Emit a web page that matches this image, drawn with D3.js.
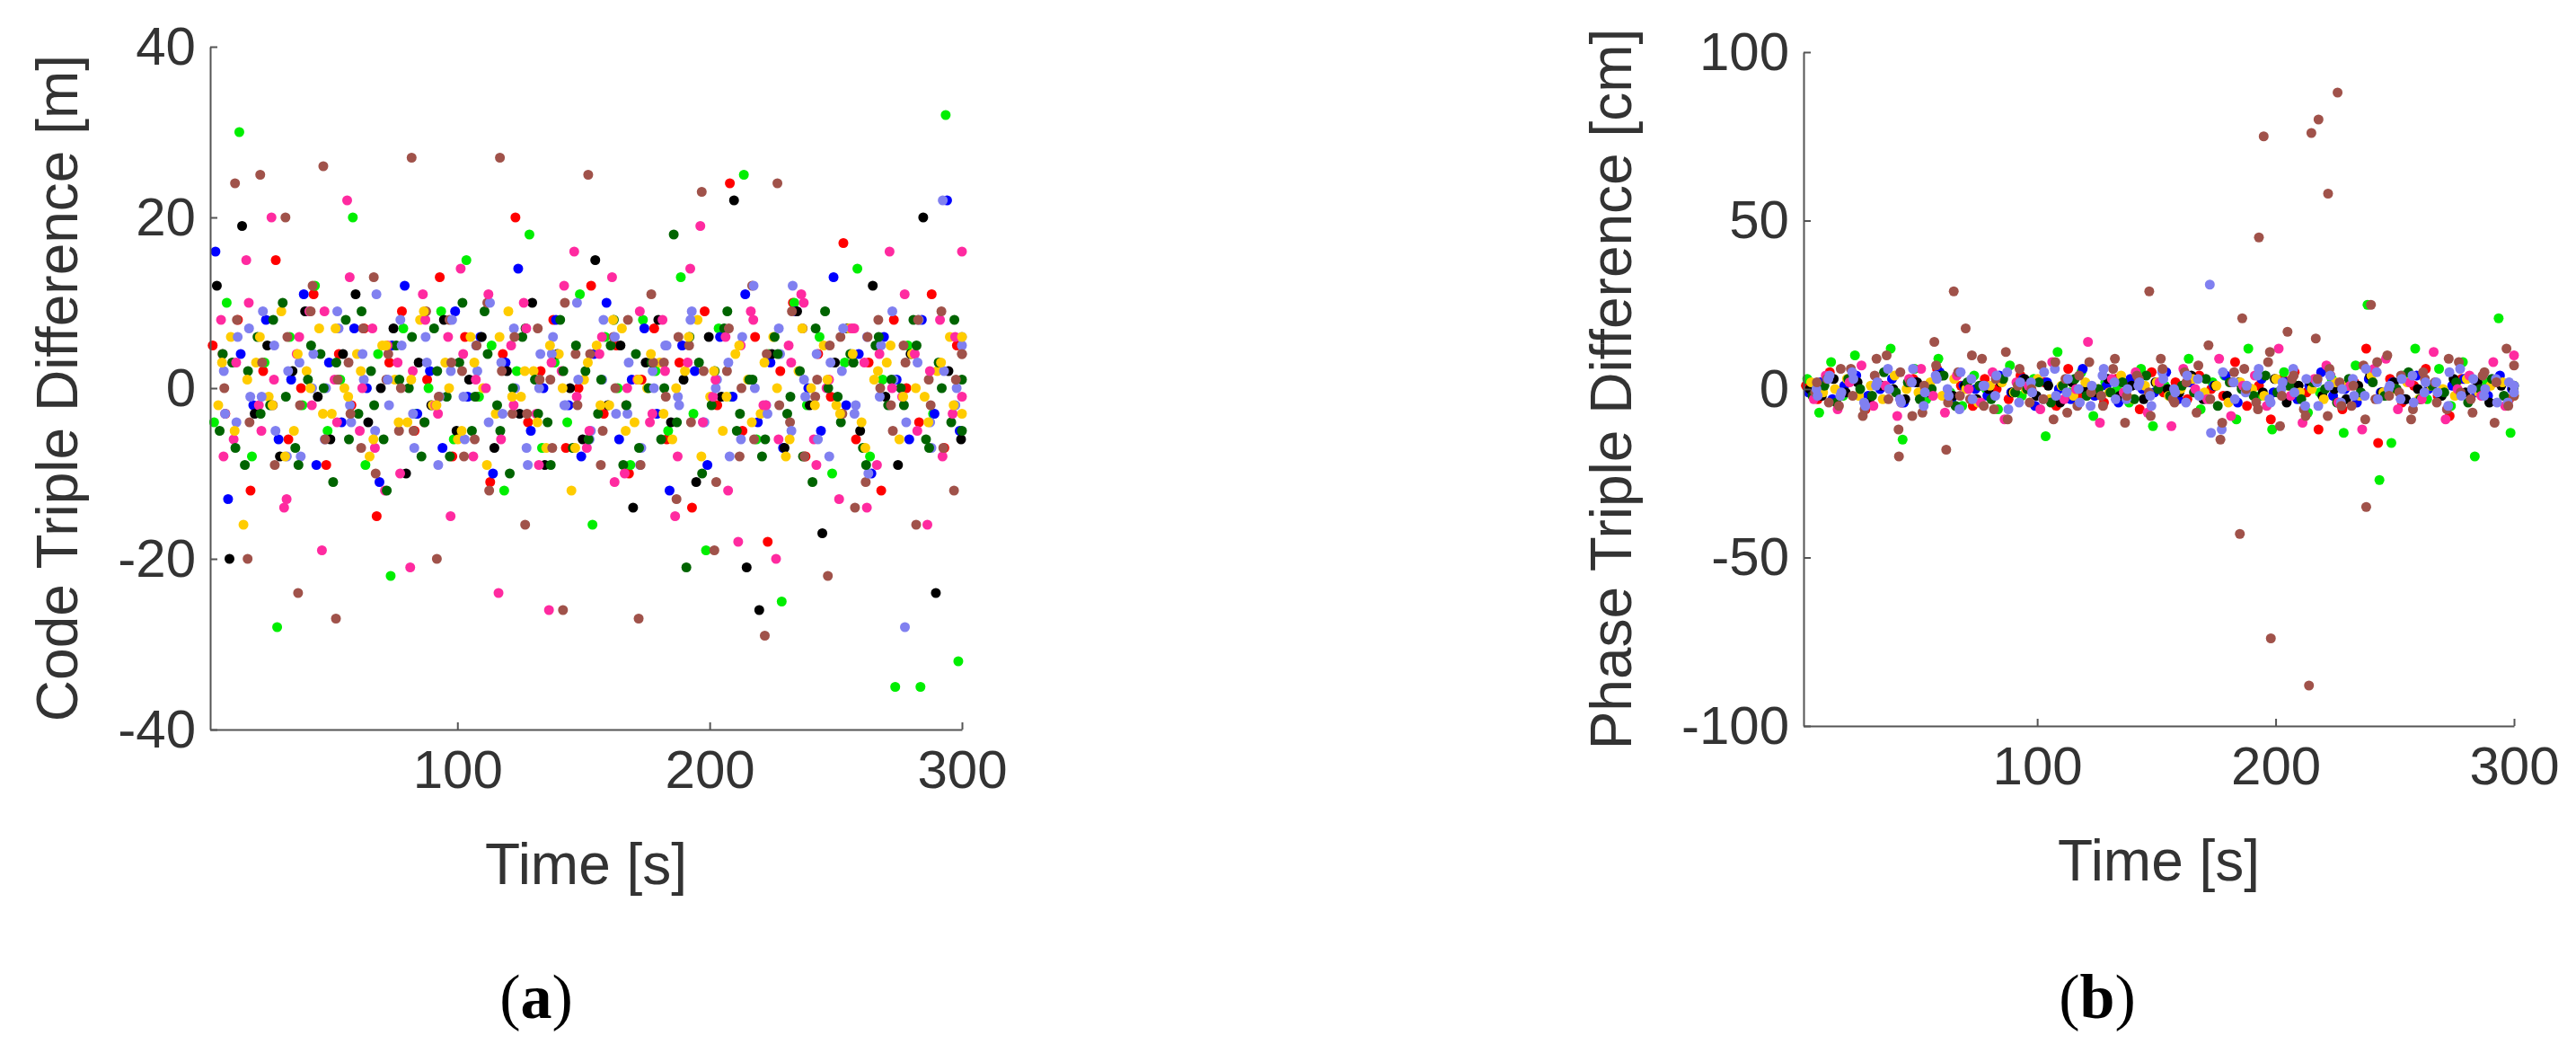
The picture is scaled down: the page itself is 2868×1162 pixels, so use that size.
<!DOCTYPE html>
<html><head><meta charset="utf-8">
<script src="https://cdn.jsdelivr.net/npm/d3@7"></script>
<style>body{margin:0;background:#fff}</style>
</head><body><svg id="c" width="2868" height="1162"></svg>
<script>
// sample times (s), one sample per 5 s per series
const times = d3.range(3, 300, 5);
const times2 = d3.range(5.5, 301, 5);
const colors = ["#ff0000","#00ee00","#0000ff","#000000","#ffcc00","#006400","#ff2aa0","#a0524a","#8080f0"];

// (a) Code triple difference [m]
const codeRed   = [5,-3,8,-12,2,15,-6,0,11,-9,4,-2,7,-15,3,9,-5,1,13,-8,6,-1,-11,4,20,-4,2,8,-7,0,12,-3,5,-10,1,7,-6,3,-14,9,-2,24,-5,6,-18,2,10,-8,4,-1,17,-6,3,-12,8,0,-4,11,-7,5];
const codeGreen = [-4,10,30,-8,3,-28,6,-2,12,-5,1,20,-9,4,-22,7,-3,0,9,-6,15,-1,5,-12,2,18,-7,3,-4,11,-16,6,0,-9,8,2,-5,13,-3,-19,7,-1,25,-6,4,-25,10,-2,6,-10,3,14,-8,1,-35,5,-35,-3,32,-32];
const codeBlue  = [16,-13,4,-2,8,-6,1,11,-9,3,-4,7,0,-11,5,12,-3,2,-7,9,-1,6,-10,3,14,-5,0,8,-2,-8,4,10,-6,1,7,-3,-12,5,2,-9,6,-1,11,-4,3,-7,9,0,-5,13,-2,4,-10,6,1,-6,8,-3,22,-5];
const codeBlack = [12,-20,19,-3,5,-8,2,9,-1,-6,4,11,-4,0,7,-10,3,-2,8,-5,1,6,-7,2,-3,10,-9,4,0,-6,15,-2,5,-14,3,8,-4,1,-11,6,-1,22,-21,-26,4,-7,9,-2,-17,3,7,-5,12,-1,-9,4,20,-24,2,-6];
const codeYellow= [-2,6,-16,3,-1,9,-5,2,7,-3,0,4,-8,5,1,-4,8,-2,3,-6,6,0,-3,9,-1,2,-7,4,-12,1,5,-2,7,-4,0,3,-6,2,8,-1,-5,4,1,-3,6,-8,2,0,5,-2,7,-4,1,3,-6,4,-1,2,6,-3];
const codeDkGrn = [-5,3,-9,6,-2,10,-7,1,4,-11,8,-3,2,-6,5,0,-8,7,-1,3,-5,9,-2,-10,6,1,-4,8,-7,2,-3,5,-9,4,0,-6,18,-21,3,-2,7,-5,1,-8,6,-3,2,-11,9,-1,4,-7,5,-2,0,8,-6,3,-4,1];
const codePink  = [8,-6,15,-2,20,-14,4,9,-19,1,22,-5,7,-12,3,-21,11,-2,6,14,-8,0,-24,5,10,-3,-26,2,16,-7,4,13,-10,1,-4,8,-15,3,19,-1,6,-18,9,-2,-20,5,11,-6,0,-13,7,3,-9,16,-1,4,-16,8,-3,16];
const codeBrown = [4,24,-20,25,-2,20,-24,9,26,-27,3,-7,13,1,-5,27,-4,-20,8,2,-6,10,27,-3,-16,7,1,-26,4,25,-9,6,-2,-27,11,3,-13,5,23,-19,2,-8,12,-29,24,-4,7,-1,-22,6,3,-11,8,-2,5,-16,1,9,-12,4];
const codeLav   = [2,-4,7,-1,5,-8,3,0,-6,9,-2,4,-5,1,8,-3,6,-9,2,-1,5,-4,3,7,-7,0,4,-2,10,-6,1,6,-3,-9,2,5,-1,8,-4,0,3,-6,12,-2,7,-5,1,4,-8,2,-3,6,-1,9,-28,3,-4,22,-2,5];
const codeSeries = [codeRed,codeGreen,codeBlue,codeBlack,codeYellow,codeDkGrn,codePink,codeBrown,codeLav];
// second sample set (offset times) for the denser colours
const codeLav2   = [-3,6,-1,9,-5,2,-8,4,0,7,-4,1,11,-2,5,-7,3,-1,8,-6,2,10,-3,0,-9,4,6,-2,1,-5,8,-3,3,-7,0,5,-2,9,-4,1,-8,6,0,-3,4,12,-1,-6,3,7,-2,-10,5,1,-4,8,-7,2,0,6];
const codeDkGrn2 = [4,-7,2,-3,8,-1,-9,5,0,3,-6,9,-2,-12,1,6,-4,2,-8,10,-1,4,-5,0,7,-3,-9,2,5,-6,1,8,-2,-7,3,0,-4,6,-10,2,9,-3,1,-6,4,-1,-8,7,0,-4,3,-9,6,1,-2,5,-7,0,8,-5];
const codePink2  = [-8,3,10,-5,1,-13,6,-2,9,-4,13,0,-7,5,-10,2,8,-3,-15,4,1,11,-6,-2,7,-9,3,12,-1,-5,6,-11,0,9,-3,2,-8,14,-4,1,-12,5,8,-2,-6,3,10,-9,1,-3,7,-14,4,0,11,-5,2,-8,6,-1];
const codeBrown2 = [0,8,-4,3,-9,6,-2,12,-6,1,-3,7,-10,4,0,-5,9,-1,3,-8,5,-12,2,6,-3,1,-7,10,-2,4,-5,0,8,-9,3,-1,6,-4,2,-11,7,0,-6,4,-2,9,-8,1,5,-3,-14,6,0,-5,3,8,-2,-7,1,4];
const codeYellow2= [3,-5,1,6,-2,-8,4,0,-3,7,-1,2,-6,5,-4,1,9,-2,0,-5,3,-9,6,-1,2,-4,5,0,-7,3,-2,8,-5,1,4,-3,0,6,-8,2,-1,5,-4,3,0,-6,7,-2,1,-3,4,-7,2,5,-1,0,-4,3,-2,6];
const codeSeries2 = [[8,codeLav2],[5,codeDkGrn2],[6,codePink2],[7,codeBrown2],[4,codeYellow2]];

// (b) Phase triple difference [cm]
const phRed   = [1,-3,5,-2,4,-6,2,0,-4,3,-1,6,-2,1,-5,3,0,-3,4,-1,2,-5,6,-2,0,-4,3,1,-6,5,-1,2,-3,4,0,-2,8,-5,1,-9,3,5,-1,-12,4,-6,2,12,-16,3,-4,1,6,-2,-8,3,0,-1,2,-3];
const phGreen = [3,-7,8,-2,10,-4,1,12,-15,6,-3,9,-1,-5,4,0,-6,7,-2,3,-14,11,-1,5,-8,2,0,-4,6,-11,1,-3,9,-6,2,4,-9,12,-2,-12,5,1,-7,-1,3,-13,7,25,-27,-16,4,12,-3,6,-5,8,-20,2,21,-13];
const phBlue  = [-1,2,-3,1,4,-2,0,3,-4,2,-1,5,-3,1,0,-2,4,-1,3,-5,2,0,-3,6,-2,1,-4,3,0,-1,5,-3,2,-2,1,4,-4,0,3,-1,2,-3,1,5,-2,0,-4,3,-1,2,-3,4,0,-2,1,3,-1,-2,4,0];
const phBlack = [0,-2,3,-1,2,-4,1,0,-3,2,-1,4,-2,1,-3,0,2,-1,3,-2,1,-4,2,0,-1,3,-2,1,-3,2,0,-1,4,-3,1,-2,2,0,-1,3,-4,1,2,-2,0,-3,1,4,-1,2,-3,0,1,-2,3,-1,2,-4,1,0];
const phYellow= [2,-1,0,3,-2,1,-3,4,0,-1,2,-2,3,0,-4,1,2,-1,0,3,-3,1,-2,2,0,-1,4,-3,1,2,-2,0,3,-1,1,-4,2,0,-2,3,1,-1,0,-3,2,1,-2,4,-1,0,2,-3,1,0,-2,3,-1,1,2,-2];
const phDkGrn = [-2,1,-4,3,0,-2,5,-1,2,-3,0,4,-5,2,1,-3,3,-1,0,2,-4,1,3,-2,0,-1,2,-3,4,0,-2,1,-1,3,-5,2,0,-2,4,-1,1,-3,2,0,-4,3,-1,2,-2,0,5,-3,1,-1,2,-4,0,3,-2,1];
const phPink  = [-3,4,-6,2,7,-5,1,-8,3,6,-2,-7,4,0,-4,5,-9,2,1,-6,8,-3,0,14,-10,3,-1,5,-7,2,-11,6,0,-3,9,-8,1,4,-5,12,-2,-10,3,7,-4,1,-12,6,9,-6,2,-3,11,-9,0,4,-2,8,-5,10];
const phBrown = [-1,3,-5,6,-8,4,10,-12,2,-7,14,-18,5,-3,9,-6,11,1,-4,7,-9,3,-5,8,-2,6,-10,4,-1,9,-3,5,-7,13,-15,2,6,-4,8,-11,3,-6,15,-8,2,-5,7,-3,10,-1,-9,5,2,-6,8,-3,4,-10,12,-2];
const phLav   = [0,3,-2,5,-4,1,6,-3,2,-5,4,0,-6,3,1,-2,5,-4,2,-3,6,-1,0,-5,4,2,-3,1,-2,5,0,-4,3,31,-12,2,-1,4,-3,0,6,-5,2,1,-4,3,-2,5,0,-3,4,-1,2,-5,6,0,-2,3,-4,1];
const phaseSeries = [phRed,phGreen,phBlue,phBlack,phYellow,phDkGrn,phPink,phBrown,phLav];
const phBrown2 = [2,-4,6,-2,-6,9,-3,5,-8,1,7,-4,-2,10,-5,3,-9,6,0,-3,8,-7,4,-1,-5,9,-2,3,-8,6,-4,2,7,-3,-10,5,0,-6,11,-2,4,-8,3,6,-5,1,-9,8,-2,4,-6,3,-4,9,-1,-7,5,2,-5,7];
const phLav2   = [-2,4,-1,3,-5,2,0,-4,6,-1,3,-2,5,-3,1,4,-6,2,-1,5,-2,3,-4,1,6,-3,0,2,-5,3,-1,4,-2,-13,5,-3,1,6,-4,2,-1,3,-5,4,0,-2,6,-3,1,3,-4,2,-1,5,-2,3,0,-4,2,-1];
const phaseSeries2 = [[7,phBrown2],[8,phLav2]];
// brown outliers in (b)
const phOutT = [42,65,70,147,185,186,193,195,198,205,214,215,218,222,226,238,240];
const phOutV = [-20,29,18,29,-43,21,45,75,-74,17,-88,76,80,58,88,-35,25];

const svg = d3.select("#c");
const SANS = "Arial, 'Liberation Sans', sans-serif";
function panel(o){
  const x = d3.scaleLinear().domain([2,300]).range([o.x0,o.x1]);
  const y = d3.scaleLinear().domain(o.ydom).range([o.y1,o.y0]);
  const g = svg.append("g");
  const dots = (vals, tt, ci, off) => g.selectAll(null).data(vals).join("circle")
      .attr("cx",(d,i)=>x(Math.min(300,tt[i]+off)))
      .attr("cy",d=>y(d)).attr("r",5.5).attr("fill",colors[ci]);
  o.series.forEach((vals,si)=>dots(vals,times,si,si*0.55));
  o.series2.forEach(([ci,vals])=>dots(vals,times2,ci,ci*0.3));
  if(o.extra) dots(o.extra.v,o.extra.t,7,0);
  const fmt = d => String(d);
  const ax = g.append("g").attr("transform",`translate(0,${o.y1})`)
    .call(d3.axisBottom(x).tickValues([100,200,300]).tickFormat(fmt).tickSize(-8).tickPadding(22).tickSizeOuter(0));
  const ay = g.append("g").attr("transform",`translate(${o.x0},0)`)
    .call(d3.axisLeft(y).tickValues(o.yticks).tickFormat(fmt).tickSize(-8).tickPadding(16).tickSizeOuter(0));
  [ax,ay].forEach(a=>{
    a.select(".domain").attr("stroke","#555").attr("stroke-width",2);
    a.selectAll(".tick line").attr("stroke","#555").attr("stroke-width",2);
    a.selectAll("text").style("font-size","60px").attr("fill","#333").style("font-family",SANS);
  });
  ax.selectAll("text").attr("dy","0.72em");
  g.append("text").attr("x",(o.x0+o.x1)/2).attr("y",o.y1+172).attr("text-anchor","middle")
    .style("font-size","64px").style("font-family",SANS).attr("fill","#333").text("Time [s]");
  g.append("text").attr("transform",`translate(${o.ylx},${(o.y0+o.y1)/2}) rotate(-90)`).attr("text-anchor","middle")
    .style("font-size","64px").style("font-family",SANS).attr("fill","#333").text(o.ylabel);
  g.append("text").attr("x",o.labx).attr("y",1133).attr("text-anchor","middle")
    .style("font-family","'Liberation Serif', 'DejaVu Serif', serif").style("font-size","70px").attr("fill","#000")
    .html('(<tspan font-weight="bold">'+o.lab+'</tspan>)');
}
panel({x0:234,x1:1071,y0:52,y1:812,ydom:[-40,40],yticks:[-40,-20,0,20,40],series:codeSeries,series2:codeSeries2,
  ylabel:"Code Triple Difference [m]",ylx:86,labx:597,lab:"a"});
panel({x0:2008,x1:2799,y0:58,y1:808,ydom:[-100,100],yticks:[-100,-50,0,50,100],series:phaseSeries,series2:phaseSeries2,
  extra:{t:phOutT,v:phOutV},ylabel:"Phase Triple Difference [cm]",ylx:1816,labx:2335,lab:"b"});
</script></body></html>
